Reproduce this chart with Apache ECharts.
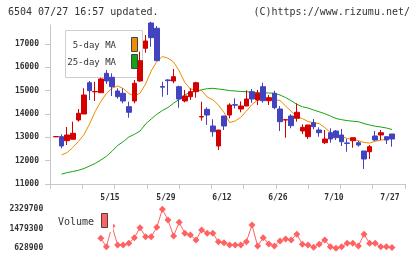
<!DOCTYPE html>
<html>
<head>
<meta charset="utf-8">
<script src="https://cdn.jsdelivr.net/npm/echarts@6/dist/echarts.min.js"></script>
<style>
html,body{margin:0;padding:0;background:#fff;}
#c{width:420px;height:259px;}
</style>
</head>
<body>
<div id="c"></div>
<script>
// ---- data ----
var opens  = [13020,13030,12856,12916,13743,14000,15341,14950,14913,15744,15573,14986,14887,14313,14557,15414,16816,17900,17673,15180,15460,15414,15170,14557,14741,14956,13870,14200,13486,12629,13914,13957,14400,14214,14343,14956,14600,15170,14570,14887,14214,13740,13914,13816,13271,13027,13627,13314,12770,13199,13271,13100,12760,12856,12770,12414,12384,13057,13100,13027,13143];
var closes = [13035,12630,13100,13173,14030,14814,14999,14965,15500,15414,15170,14741,14557,14073,15316,16284,17129,17270,16284,15150,15430,15600,14643,14771,14956,15341,13890,13957,13241,13314,13486,14386,14380,14343,14643,14643,14887,14570,14700,14270,13670,13760,13500,14073,13430,13529,13456,13199,12929,12929,12984,12813,12740,12984,12671,12071,12600,12886,13199,12886,12929];
var lows   = [13010,12530,12671,12900,13670,14000,14600,14557,14913,15286,14771,14656,14459,13841,14459,15384,16627,16884,16284,14741,14814,15316,14270,14500,14600,14700,13713,13529,13027,12457,13314,13816,14243,14073,14343,14484,14386,14484,14386,14200,13271,12984,13387,13670,13143,12929,13343,13027,12714,12770,12886,12629,12384,12556,12600,11643,12071,12843,12886,12714,12600];
var highs  = [13050,13130,13443,13670,14214,15101,15414,15384,15556,15886,15744,15101,15101,14527,15457,16670,17386,17950,17771,15384,15490,15929,15213,15029,15101,15384,14527,14287,13773,13314,13914,14459,14673,14541,15016,15071,15029,15341,14814,14998,14343,13770,13987,14459,13559,13529,13786,13430,13314,13387,13314,13357,12929,12984,12843,12414,12671,13271,13314,13027,13143];
var ma5  = [null,12243,12350,12564,12821,13121,13571,14107,14536,14879,15106,15200,15093,14879,14771,14887,15286,15843,16250,16464,16391,16229,15843,15350,15071,15029,15007,14729,14609,14386,14064,13636,13700,13859,14129,14407,14600,14621,14621,14621,14579,14343,14116,13884,13803,13679,13623,13589,13421,13207,13100,13027,12954,12907,12864,12779,12757,12830,12881,12911,12971];
var ma25 = [null,11420,11489,11536,11587,11664,11771,11879,12029,12187,12401,12650,12813,13014,13130,13271,13571,13786,13987,14150,14279,14463,14626,14814,14930,14981,15037,15084,15101,15071,15041,15003,14986,14964,14956,14926,14913,14913,14900,14887,14814,14703,14570,14416,14309,14257,14171,14094,14013,13914,13807,13756,13717,13691,13670,13589,13529,13477,13443,13400,13336];
var volumes = [null,null,null,null,null,null,null,null,1065000,699000,1600000,773000,773000,847000,1091000,1527000,1135000,1135000,1545000,2329700,1863000,1165000,1763000,1283000,1209000,991000,1427000,1283000,1283000,917000,873000,773000,773000,773000,917000,1645000,729000,1091000,816000,729000,947000,1035000,991000,1239000,803000,773000,672000,803000,991000,699000,628900,699000,847000,847000,729000,1239000,847000,847000,699000,699000,660000];
var xLabelIndex = [10,20,30,40,50,60];
var xLabelText  = ['5/15','5/29','6/12','6/26','7/10','7/27'];
var priceTicks  = [11000,12000,13000,14000,15000,16000,17000];
var volumeTicks = [628900,1479300,2329700];
var titleLeft  = '6504 07/27 16:57 updated.';
var titleRight = '(C)https://www.rizumu.net/';
var legendNames = ['5-day MA','25-day MA','Volume'];

// ---- build ----
var cats = opens.map(function(_, i){ return String(i); });
var candles = opens.map(function(o, i){ return [o, closes[i], lows[i], highs[i]]; });
var labelMap = {};
xLabelIndex.forEach(function(ix, k){ labelMap[ix] = xLabelText[k]; });
function plain(v){ return String(v); }

var MONO = 'DejaVu Sans Mono';
var PMIN = 11000, PMAX = 17814;
var RED = '#d40000', BLUE = '#4343c0', ORANGE = '#f08c00', GREEN = '#14a514', VOL = '#ff6262';

var chart = echarts.init(document.getElementById('c'), null, {renderer:'canvas'});
chart.setOption({
  animation: false,
  backgroundColor: '#fff',
  title: [
    {text: titleLeft, left: 8, top: 7, padding: 0, textStyle:{fontFamily: MONO, fontSize: 10, fontWeight:'normal', color:'#333'}},
    {text: titleRight, right: 10, top: 7, padding: 0, textStyle:{fontFamily: MONO, fontSize: 10, fontWeight:'normal', color:'#333'}}
  ],
  grid: [
    {left: 50, top: 25, width: 355, height: 159},
    {left: 53.2, top: 25, width: 341.6, height: 159},
    {left: 53.2, top: 209.3, width: 341.6, height: 39}
  ],
  xAxis: [
    {type:'value', gridIndex:0, min:0, max:11, interval:1,
     axisLine:{show:true, lineStyle:{color:'#c8c8c8', width:1}},
     axisTick:{show:true, length:5, lineStyle:{color:'#c8c8c8'}},
     axisLabel:{show:false}, splitLine:{show:false}},
    {type:'category', gridIndex:1, data: cats, boundaryGap:true,
     axisLine:{show:false}, axisTick:{show:false}, splitLine:{show:false},
     axisLabel:{show:true, interval:0, margin:10, padding:[0,4,0,0],
       fontFamily: MONO, fontSize: 8, fontWeight:'bold', color:'#333',
       formatter: function(v, i){ return labelMap[i] || ''; }}},
    {type:'category', gridIndex:2, data: cats, boundaryGap:true,
     axisLine:{show:false}, axisTick:{show:false}, axisLabel:{show:false}, splitLine:{show:false}}
  ],
  yAxis: [
    {type:'value', gridIndex:0, min:PMIN, max:PMAX,
     axisLine:{show:true, lineStyle:{color:'#c8c8c8', width:1}},
     axisTick:{show:true, length:5, customValues: priceTicks, lineStyle:{color:'#c8c8c8'}},
     axisLabel:{show:true, customValues: priceTicks, formatter: plain, margin:11, fontFamily: MONO, fontSize: 8, fontWeight:'bold', color:'#333'},
     splitLine:{show:false}},
    {type:'value', gridIndex:1, min:PMIN, max:PMAX, show:false, splitLine:{show:false}},
    {type:'value', gridIndex:2, min:volumeTicks[0], max:volumeTicks[2],
     axisLine:{show:false}, axisTick:{show:false}, splitLine:{show:false},
     axisLabel:{show:true, customValues: volumeTicks, formatter: plain, margin:10, fontFamily: MONO, fontSize: 8, fontWeight:'bold', color:'#333'}}
  ],
  series: [
    {type:'line', name: legendNames[1], xAxisIndex:1, yAxisIndex:1, data: ma25, showSymbol:false, symbol:'none',
     lineStyle:{color:GREEN, width:1}, z:3},
    {type:'line', name: legendNames[0], xAxisIndex:1, yAxisIndex:1, data: ma5, showSymbol:false, symbol:'none',
     lineStyle:{color:ORANGE, width:1}, z:3},
    {type:'candlestick', xAxisIndex:1, yAxisIndex:1, data: candles, barWidth:5, clip:true,
     itemStyle:{color:RED, color0:BLUE, borderColor:RED, borderColor0:BLUE, borderWidth:1}, z:4},
    {type:'line', name: legendNames[2], xAxisIndex:2, yAxisIndex:2, data: volumes, connectNulls:false,
     symbol:'diamond', symbolSize:7, showSymbol:true, showAllSymbol:true, clip:false,
     itemStyle:{color:VOL}, lineStyle:{color:VOL, width:1}, z:3}
  ],
  graphic: [
    {type:'rect', z:1, shape:{x:65.5, y:30.5, width:77, height:47}, style:{fill:'#fff', stroke:'#cfcfcf', lineWidth:1}},
    {type:'text', z:5, style:{x:116, y:46, text: legendNames[0], align:'right', verticalAlign:'middle', font:'9px "DejaVu Sans Mono"', fill:'#333'}},
    {type:'text', z:5, style:{x:116, y:62.5, text: legendNames[1], align:'right', verticalAlign:'middle', font:'9px "DejaVu Sans Mono"', fill:'#333'}},
    {type:'rect', z:5, shape:{x:131.5, y:37.5, width:6, height:14}, style:{fill:ORANGE, stroke:'#444', lineWidth:1}},
    {type:'rect', z:5, shape:{x:131.5, y:54.5, width:6, height:14}, style:{fill:GREEN, stroke:'#444', lineWidth:1}},
    {type:'rect', z:10, shape:{x:54, y:205, width:59, height:27}, style:{fill:'#fff', lineWidth:0}},
    {type:'text', z:11, style:{x:94, y:222, text: legendNames[2], align:'right', verticalAlign:'middle', font:'10px "DejaVu Sans Mono"', fill:'#333'}},
    {type:'rect', z:11, shape:{x:101.5, y:213.5, width:6, height:14}, style:{fill:VOL, stroke:'#444', lineWidth:1}}
  ]
});
</script>
</body>
</html>
